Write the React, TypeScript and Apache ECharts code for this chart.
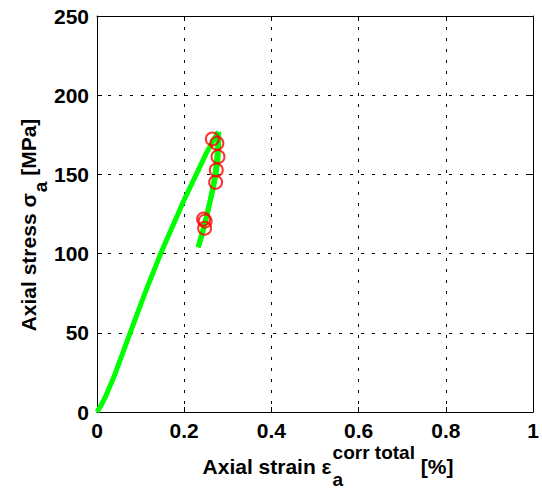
import { useEffect, useRef } from 'react';
import * as echarts from 'echarts';

// Loading branch (strain %, stress MPa)
const loadStrain = [0, 0.01, 0.02, 0.04, 0.076, 0.11, 0.146, 0.2, 0.25, 0.278];
const loadStress = [0, 4.5, 10, 23, 50, 75, 100, 134, 163, 177];

// Unloading branch
const unloadStrain = [0.279, 0.279, 0.277, 0.273, 0.268, 0.262, 0.255, 0.248, 0.24, 0.232];
const unloadStress = [177, 168, 158, 150, 143, 136, 128, 120, 112, 104];

// Reloading branch
const reloadStrain = [0.232, 0.238, 0.245, 0.252, 0.26, 0.267, 0.272, 0.276, 0.279];
const reloadStress = [104, 109, 116, 124, 134, 144, 153, 164, 176];

// Red circle markers
const markStrain = [0.2645, 0.275, 0.2775, 0.2736, 0.272, 0.2445, 0.248, 0.2468];
const markStress = [172.3, 169.6, 161.2, 152.8, 145, 121.8, 120.5, 116];

const xMin = 0, xMax = 1, xStep = 0.2;
const yMin = 0, yMax = 250, yStep = 50;

const FF = '"Liberation Sans", Arial, Helvetica, sans-serif';
const MAIN = 21;
const SMALL = 19;

function pairs(xs: number[], ys: number[]) {
  return xs.map((x, i) => [x, ys[i]]);
}

function measure(text: string, size: number) {
  const c = document.createElement('canvas').getContext('2d');
  if (!c) return text.length * size * 0.55;
  c.font = `bold ${size}px ${FF}`;
  return c.measureText(text).width;
}

function txt(text: string, x: number, y: number, size: number) {
  return {
    type: 'text', x, y,
    style: {
      text, fill: '#000', fontSize: size, fontWeight: 'bold', fontFamily: FF,
      textAlign: 'left', textVerticalAlign: 'middle',
    },
  };
}

export default function App() {
  const ref = useRef<HTMLDivElement>(null);
  useEffect(() => {
    if (!ref.current) return;
    const chart = echarts.init(ref.current, null, { renderer: 'svg' });

    // x title pieces
    const xMain = 'Axial strain \u03b5';
    const xSup = 'corr total';
    const xEnd = ' [%]';
    const wXMain = measure(xMain, MAIN);
    const wXSup = measure(xSup, SMALL);
    const wXEnd = measure(xEnd, MAIN);
    const xTotal = wXMain + wXSup + wXEnd + 1;
    const xStart = 328 - xTotal / 2;

    // y title pieces
    const yMain = 'Axial stress \u03c3';
    const ySub = 'a';
    const yEnd = ' [MPa]';
    const wYMain = measure(yMain, MAIN);
    const wYSub = measure(ySub, SMALL);
    const wYEnd = measure(yEnd, MAIN);
    const yTotal = wYMain + wYSub + wYEnd + 1;
    const yCenter = 225;

    const axisCommon = {
      axisLine: { show: true, onZero: false, lineStyle: { color: '#000', width: 1 } },
      axisTick: { show: true, inside: true, length: 5, lineStyle: { color: '#000', width: 1 } },
    };

    const lineStyle = { color: '#00ff00', width: 5 };

    chart.setOption({
      animation: false,
      backgroundColor: '#fff',
      grid: { left: 97, top: 16, width: 436, height: 396, show: false },
      xAxis: [
        {
          type: 'value', min: xMin, max: xMax, interval: xStep, position: 'bottom',
          ...axisCommon,
          axisLabel: { color: '#000', fontSize: MAIN, fontWeight: 'bold', fontFamily: FF, margin: 8 },
          splitLine: { show: true, lineStyle: { color: '#000', width: 1, type: [3, 8] } },
        },
        {
          type: 'value', min: xMin, max: xMax, interval: xStep, position: 'top',
          ...axisCommon,
          axisLabel: { show: false },
          splitLine: { show: false },
        },
      ],
      yAxis: [
        {
          type: 'value', min: yMin, max: yMax, interval: yStep, position: 'left',
          ...axisCommon,
          axisLabel: { color: '#000', fontSize: MAIN, fontWeight: 'bold', fontFamily: FF, margin: 8 },
          splitLine: { show: true, lineStyle: { color: '#000', width: 1, type: [3, 8] } },
        },
        {
          type: 'value', min: yMin, max: yMax, interval: yStep, position: 'right',
          ...axisCommon,
          axisLabel: { show: false },
          splitLine: { show: false },
        },
      ],
      series: [
        {
          type: 'line', xAxisIndex: 0, yAxisIndex: 0,
          data: pairs(loadStrain, loadStress),
          showSymbol: false, symbol: 'none',
          lineStyle,
          z: 2,
        },
        {
          type: 'line', xAxisIndex: 0, yAxisIndex: 0,
          data: pairs(unloadStrain, unloadStress),
          showSymbol: false, symbol: 'none',
          lineStyle,
          z: 2,
        },
        {
          type: 'line', xAxisIndex: 0, yAxisIndex: 0,
          data: pairs(reloadStrain, reloadStress),
          showSymbol: false, symbol: 'none',
          lineStyle,
          z: 2,
        },
        {
          type: 'scatter', xAxisIndex: 0, yAxisIndex: 0,
          data: pairs(markStrain, markStress),
          symbol: 'circle', symbolSize: 13,
          itemStyle: { color: 'transparent', borderColor: '#ff0000', borderWidth: 2 },
          z: 3,
        },
      ],
      graphic: [
        // x-axis title
        txt(xMain, xStart, 466, MAIN),
        txt(xSup, xStart + wXMain + 1, 452, SMALL),
        txt('a', xStart + wXMain + 1, 479, SMALL),
        txt(xEnd, xStart + wXMain + wXSup + 1, 466, MAIN),
        // y-axis title (rotated)
        {
          type: 'group', x: 28, y: yCenter + yTotal / 2, rotation: Math.PI / 2,
          children: [
            txt(yMain, 0, 0, MAIN),
            txt(ySub, wYMain + 1, 12, SMALL),
            txt(yEnd, wYMain + wYSub + 1, 0, MAIN),
          ],
        },
      ],
    });
    return () => chart.dispose();
  }, []);
  return <div ref={ref} style={{ position: 'absolute', left: 0, top: 0, width: 542, height: 491 }} />;
}
